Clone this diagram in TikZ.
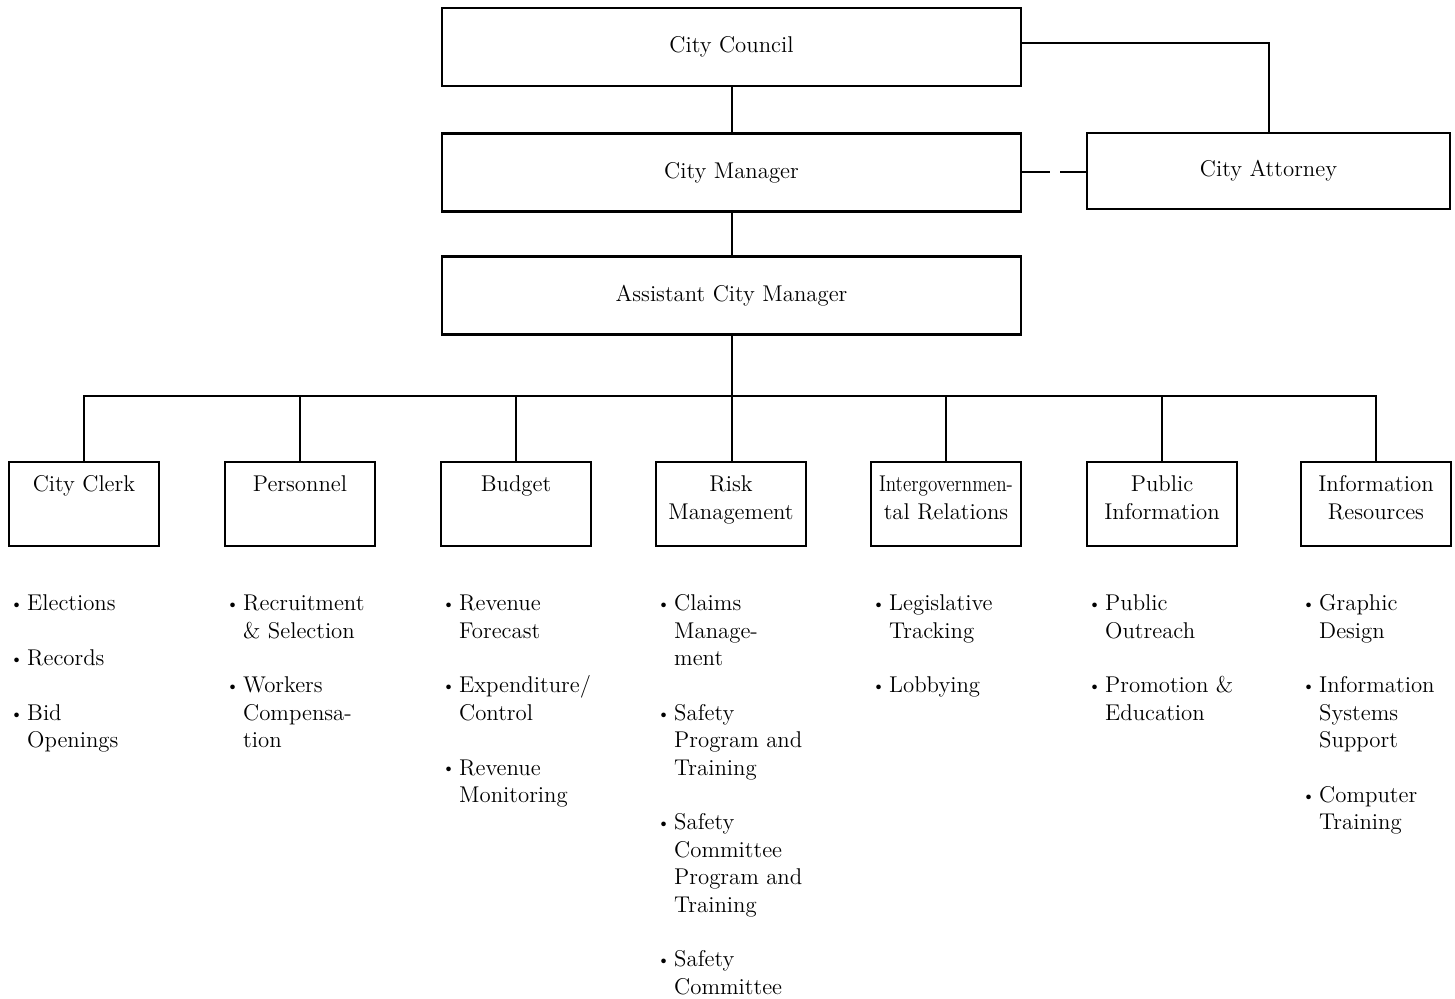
\documentclass[tikz,border=0pt]{standalone}
\usepackage{graphicx}
\newcommand{\chartfont}{\fontsize{11.4}{13.7}\selectfont}
\newcommand{\bl}{\makebox[6.5pt][l]{\hspace{-2pt}\raisebox{0.6pt}{\scalebox{0.75}{\textbullet}}}}
\newcommand{\unittext}[1]{\parbox[c][42pt][t]{74pt}{\centering\rule{0pt}{15pt}#1}}
\tikzset{
  office/.style={draw,line width=1.2pt,inner sep=0pt,font=\chartfont},
  head/.style={office,minimum width=289.5pt,minimum height=39pt},
  unit/.style={office,minimum width=75pt,minimum height=42pt},
  duties/.style={anchor=north west,inner sep=0pt,font=\chartfont},
  link/.style={line width=1pt}
}
\begin{document}
\begin{tikzpicture}[x=0.5pt,y=-0.5pt]
\useasboundingbox (0,0) rectangle (1455,999);
\node[head] (council) at (731.5,47) {City Council};
\node[head] (manager) at (731.5,172.5) {City Manager};
\node[head] (assistant) at (731.5,295.5) {Assistant City Manager};
\node[office,minimum width=181.5pt,minimum height=38pt] (attorney) at (1268.5,171) {City Attorney};

\node[unit] (clerk) at (84,504) {\unittext{City Clerk}};
\node[unit] (personnel) at (300,504) {\unittext{Personnel}};
\node[unit] (budget) at (516,504) {\unittext{Budget}};
\node[unit] (risk) at (731,504) {\unittext{Risk\\Management}};
\node[unit] (intergov) at (946,504) {\unittext{\scalebox{0.84}[1]{Intergovernmen-}\\tal Relations}};
\node[unit] (public) at (1162,504) {\unittext{Public\\Information}};
\node[unit] (info) at (1376,504) {\unittext{Information\\Resources}};

\coordinate (bus) at (731,396);
\draw[link] (council) -- (manager);
\draw[link] (manager) -- (assistant);
\draw[link] ([yshift=2pt]council.east) -| (attorney.north);
\draw[link,dash pattern=on 14pt off 5pt] (manager.east) -- (manager.east -| attorney.west);
\draw[link] (clerk.north) |- (bus) -| (info.north);
\draw[link] (assistant.south) -- (assistant.south |- risk.north);
\foreach \u in {personnel,budget,intergov,public}
  \draw[link] (\u.north) -- (\u.north |- bus);

\node[duties] (clerklist) at ([xshift=3pt,yshift=-22pt]clerk.south west)
  {\begin{tabular}{@{}l@{}l@{}}\bl&Elections\\&\\\bl&Records\\&\\\bl&Bid\\&Openings\end{tabular}};
\node[duties] (personnellist) at ([xshift=3pt,yshift=-22pt]personnel.south west)
  {\begin{tabular}{@{}l@{}l@{}}\bl&Recruitment\\&\& Selection\\&\\\bl&Workers\\&Compensa-\\&tion\end{tabular}};
\node[duties] (budgetlist) at ([xshift=3pt,yshift=-22pt]budget.south west)
  {\begin{tabular}{@{}l@{}l@{}}\bl&Revenue\\&Forecast\\&\\\bl&Expenditure/\\&Control\\&\\\bl&Revenue\\&Monitoring\end{tabular}};
\node[duties] (risklist) at ([xshift=3pt,yshift=-22pt]risk.south west)
  {\begin{tabular}{@{}l@{}l@{}}\bl&Claims\\&Manage-\\&ment\\&\\\bl&Safety\\&Program and\\&Training\\&\\
   \bl&Safety\\&Committee\\&Program and\\&Training\\&\\\bl&Safety\\&Committee\end{tabular}};
\node[duties] (intergovlist) at ([xshift=3pt,yshift=-22pt]intergov.south west)
  {\begin{tabular}{@{}l@{}l@{}}\bl&Legislative\\&Tracking\\&\\\bl&Lobbying\end{tabular}};
\node[duties] (publiclist) at ([xshift=3pt,yshift=-22pt]public.south west)
  {\begin{tabular}{@{}l@{}l@{}}\bl&Public\\&Outreach\\&\\\bl&Promotion \&\\&Education\end{tabular}};
\node[duties] (infolist) at ([xshift=3pt,yshift=-22pt]info.south west)
  {\begin{tabular}{@{}l@{}l@{}}\bl&Graphic\\&Design\\&\\\bl&Information\\&Systems\\&Support\\&\\\bl&Computer\\&Training\end{tabular}};
\end{tikzpicture}
\end{document}
